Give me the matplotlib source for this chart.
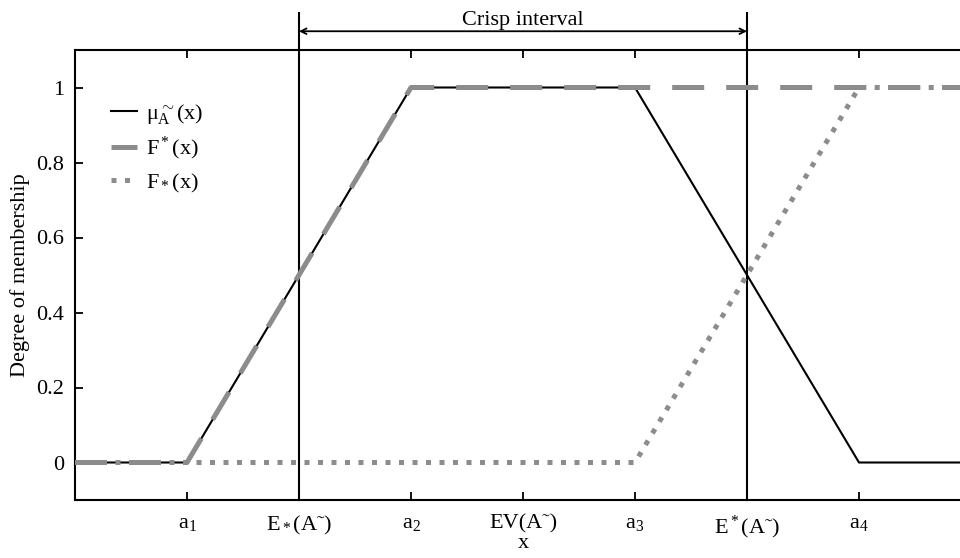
import matplotlib
matplotlib.use('Agg')
import matplotlib.pyplot as plt

plt.rcParams['font.family'] = ['Liberation Serif', 'DejaVu Serif']
plt.rcParams['mathtext.fontset'] = 'custom'
plt.rcParams['mathtext.rm'] = 'Liberation Serif'
plt.rcParams['mathtext.it'] = 'Liberation Serif'
plt.rcParams['mathtext.bf'] = 'Liberation Serif:bold'

# x positions of a1..a4 and the expected-value points
x_mu = [0, 1, 3, 5, 7, 8]
y_mu = [0, 0, 1, 1, 0, 0]
x_upper = [0, 1, 3, 8]
y_upper = [0, 0, 1, 1]
x_lower = [0, 5, 7, 8]
y_lower = [0, 0, 1, 1]
e_lower = 2
e_upper = 6

tick_pos = [1, 2, 3, 4, 5, 6, 7]
tick_lab = ['a$_1$', 'E$_*$(A\u02dc)', 'a$_2$', 'EV(A\u02dc)', 'a$_3$',
            'E$^*$(A\u02dc)', 'a$_4$']

gray = '#8c8c8c'
fs = 16

fig = plt.figure(figsize=(9.6, 5.58), dpi=100)
ax = fig.add_axes([75/960, 58/558, 896/960, 450/558])

ax.plot(x_mu, y_mu, color='black', lw=1.5, label=r'$\mu_A^{\sim}$(x)', zorder=3)
ax.plot(x_upper, y_upper, color=gray, lw=3.6, dashes=(6.4, 4.4),
        dash_capstyle='butt', label='F$^*$(x)', zorder=4)
ax.plot(x_lower, y_lower, color=gray, lw=3.6, dashes=(1, 1.7),
        dash_capstyle='butt', label='F$_*$(x)', zorder=5)

for xv in [e_lower, e_upper]:
    ax.plot([xv, xv], [-0.1, 1.198], color='black', lw=1.5, clip_on=False, zorder=2)

ax.annotate('', xy=(e_lower, 1.15), xytext=(e_upper, 1.15),
            arrowprops=dict(arrowstyle='<->', lw=1.3, color='black',
                            shrinkA=0, shrinkB=0),
            annotation_clip=False)
ax.text((e_lower + e_upper) / 2, 1.166, 'Crisp interval', ha='center',
        va='baseline', fontsize=fs)

ax.set_xlim(0, 8)
ax.set_ylim(-0.1, 1.1)
ax.set_xticks(tick_pos)
ax.set_xticklabels(tick_lab)
ax.set_yticks([0, 0.2, 0.4, 0.6, 0.8, 1])
ax.set_yticklabels(['0', '0.2', '0.4', '0.6', '0.8', '1'])
ax.tick_params(direction='in', length=6, width=1.3, labelsize=fs, top=True,
               right=True, pad=8)
ax.tick_params(axis='x', pad=10)
for s in ax.spines.values():
    s.set_linewidth(1.5)

ax.set_xlabel('x', fontsize=fs, labelpad=-5)
ax.set_ylabel('Degree of membership', fontsize=fs, labelpad=4)

ax.legend(loc='upper left', bbox_to_anchor=(0.03, 0.905), frameon=False,
          fontsize=fs, handlelength=1.2, handletextpad=0.4, labelspacing=0.42,
          borderaxespad=0)

fig.savefig('out.png', dpi=100)
